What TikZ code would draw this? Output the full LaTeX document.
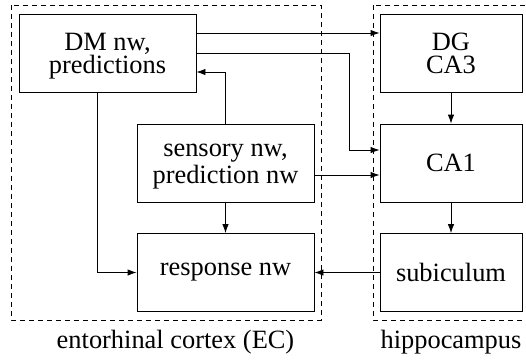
\documentclass[tikz,border=0pt]{standalone}
\usepackage{fontspec}
\setmainfont{Liberation Serif}
\usetikzlibrary{arrows.meta}

\begin{document}
\begin{tikzpicture}[x=.5pt,y=-.5pt,
    font=\fontsize{13.2}{11.4}\selectfont,
    box/.style={draw,align=center,minimum width=88.5pt,minimum height=39pt},
    hbox/.style={box,minimum width=71pt},
    twoline/.style={text height=23pt,text depth=3pt},
    region/.style={draw,dash pattern=on 2.5pt off 2pt},
    >={Latex[length=4.5pt,width=3.2pt]}]
\useasboundingbox (0,0) rectangle (526,361);
\draw[region] (11,5) rectangle (321,320);
\draw[region] (373,5) rectangle (530,320);
\path
    (107.5,53  ) node [box,twoline]  (dm)   {DM nw,\\predictions}
    (225.5,163 ) node [box,twoline]  (sens) {sensory nw,\\prediction nw}
    (225.5,272.5) node [box]         (resp) {response nw}
    (451  ,53  ) node [hbox,twoline] (dg)   {DG\\CA3}
    (451  ,163 ) node [hbox]         (ca1)  {CA1}
    (451  ,272.5) node [hbox]        (sub)  {subiculum};
\path
    (175.5,348) node [anchor=base] (ec) {entorhinal cortex (EC)}
    (451  ,348) node [anchor=base] (hc) {hippocampus};
\draw[->] ([yshift=10pt]dm.east) -- ([yshift=10pt]dg.west);
\draw[->] (dm.east) -| ([xshift=-15pt,yshift=6.5pt]ca1.west) -- ([yshift=6.5pt]ca1.west);
\draw[->] ([yshift=-6pt]sens.east) -- ([yshift=-6pt]ca1.west);
\draw[->] (sens.north) |- ([yshift=-9.5pt]dm.east);
\draw[->] ([xshift=-5pt]dm.south) |- (resp.west);
\draw[->] (sens) -- (resp);
\draw[->] (dg) -- (ca1);
\draw[->] (ca1) -- (sub);
\draw[->] (sub) -- (resp);
\end{tikzpicture}
\end{document}
